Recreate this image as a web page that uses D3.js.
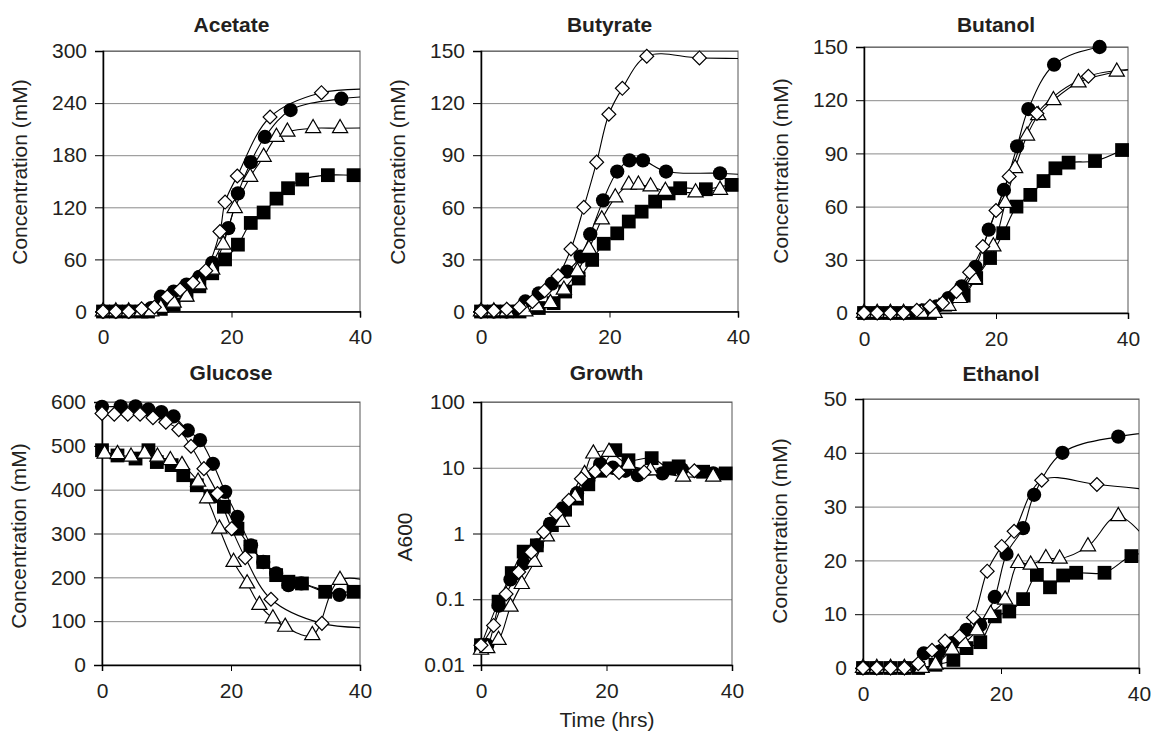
<!DOCTYPE html>
<meta charset='utf-8'>
<style>
    body {
        margin: 0;
        background: #fff;
    }
    text {
        font-family: Arial, 'Liberation Sans', Helvetica, sans-serif;
        fill: #231f20;
    }
    .title {
        font-size: 21px;
        font-weight: bold;
    }
    .tick text {
        font-size: 21px;
    }
    .label {
        font-size: 21px;
    }
</style>
<body>
<div id='container'></div>
<script src='https://d3js.org/d3.v7.min.js'></script>
<script>
    // ---- data: [time (hrs), value] ----
    // points past 40 h only carry the smoothed lines to the plot edge
    const acetateCircle = [[0,0],[2,0],[4,0],[6,1],[7.5,4],[9,17],[11,23],[13,31],[15,40],[17,56],[19.5,96],[21,136],[23,172],[25.2,201],[29.2,232],[37.1,245],[44,248]];
    const acetateDiamond = [[0,0],[2,0],[4,0],[6,3],[8,5],[10,17],[12,25],[14,33],[16,47],[18.2,92],[19,126],[20.9,156],[26,224],[34,252],[44,256]];
    const acetateTriangle = [[0,0],[2,0],[4,0],[6,0],[7.5,0],[9,4],[11,10],[13,17],[15,31],[17,48],[18.7,77],[20.5,119],[22.9,155],[25,178],[27,201],[28.7,207],[32.7,211],[36.9,211],[44,212]];
    const acetateSquare = [[0,0],[2,0],[4,0],[6,0],[7,0],[9,3],[11,8],[13,19],[15,29],[17,44],[19,60],[21,77],[23,102],[25,114],[27,130],[28.8,142],[31,152],[35,157],[39,157],[44,158]];

    const butyrateCircle = [[0,0],[2,0],[4,0],[6.9,5.8],[9,10.5],[11,16],[13.4,23],[15.5,31.6],[17,44.5],[19,64],[21.2,80.6],[23.1,87],[25.2,87],[28.8,80.6],[37.2,79.6],[44,78]];
    const butyrateDiamond = [[0,0],[2,0.5],[4,1.3],[6,2.5],[8,5.8],[9.9,12],[12,20.5],[14,36],[16,60],[18,86],[19.9,113.6],[22,128.5],[25.8,147],[34,146],[44,145.5]];
    const butyrateTriangle = [[0,0],[2,0],[4,0],[6.9,0],[8.7,2.9],[10.8,4.8],[12.9,12.5],[15,23],[16.8,36],[18.8,53],[20.9,65.6],[23,73],[24.5,73],[26.4,72],[28.7,69.4],[33.4,68.5],[37.2,70],[44,70]];
    const butyrateSquare = [[0,0],[2,0],[4,0],[6,0],[9,2],[11.3,4.8],[13.1,11.5],[15.2,19],[17.3,29.7],[19.1,39],[21.2,45],[23,51.8],[25,57.5],[27.1,63.3],[29.2,68],[31,71],[35,70.4],[39,72.9],[44,74]];

    const butanolCircle = [[0,0],[2,0],[4,0],[6,0],[8.9,1.5],[11,3.8],[12.8,8.4],[14.8,15],[16.9,26],[18.9,47],[21.2,69.4],[23.2,94],[24.9,115],[28.8,140],[35.7,150],[44,151]];
    const butanolDiamond = [[0,0],[2,0],[4,0],[6,0],[8,1.5],[10,3.8],[11.9,5.6],[14,12.2],[16,23],[18,37.5],[20,57.8],[22,77],[26.2,112.5],[34,133.5],[44,138]];
    const butanolTriangle = [[0,0],[2,0],[4,0],[6,0],[8.7,0],[10.7,0],[12.8,4],[14.5,8.4],[16.8,19],[19.6,37.5],[21.4,62],[22.9,81.6],[24.7,100],[26.4,111.5],[28.7,120],[32.5,130],[38.3,136],[44,138.5]];
    const butanolSquare = [[0,0],[2,0],[4,0],[6,0],[8,0],[10,0],[12.3,4.7],[15.1,9.8],[17,19.7],[19.1,31],[21.1,45],[23.1,60],[25.2,66.6],[27.2,74.4],[29,81.6],[31,84.8],[35,85.7],[39.1,91.9]];

    const glucoseCircle = [[0,589],[2.9,590],[5.2,590],[7.2,583],[9.2,577],[11.1,567],[13.3,535],[15.2,513],[17.2,459],[19.1,395],[21,338],[23.1,273],[25,235],[27,209],[28.9,182],[30.9,186],[36.8,160],[44,170]];
    const glucoseDiamond = [[0,574],[1.9,572],[4,572],[5.9,572],[7.9,564],[9.9,554],[11.9,537],[13.8,499],[15.8,448],[17.9,391],[20.1,311],[22.2,245],[26.2,150],[34.1,95],[44,84]];
    const glucoseTriangle = [[0.4,482],[2.4,481],[4.5,475],[6.6,482],[8.6,475],[10.6,467],[12.4,456],[14.9,418],[16.3,380],[18.2,311],[20.4,235],[22.5,186],[24.4,137],[26.5,106],[28.4,87],[32.6,68],[36.9,194],[44,180]];
    const glucoseSquare = [[0,490],[2.4,478],[5.2,471],[7.2,490],[8.5,463],[10.8,456],[12.6,433],[14.7,410],[16.8,385],[18.9,361],[21,311],[23,270],[25,235],[27,205],[28.9,190],[31,186],[34.6,167],[39,167],[44,167]];

    const growthCircle = [[0,0.02],[1,0.02],[2.8,0.08],[4.7,0.2],[6.8,0.35],[8.9,0.66],[11,1.4],[13,2.4],[15.3,4.1],[17.1,6.4],[19,11.5],[21,10],[23,9],[25,7.7],[28.9,8.2],[32,9.5],[37,8.2],[44,8]];
    const growthDiamond = [[0,0.02],[2,0.04],[4,0.12],[6,0.26],[8,0.52],[10,1.05],[12,2.0],[14,3.2],[16,6.8],[18.2,8.8],[20,9.3],[22,8.5],[26,8.6],[34,9.0],[44,8.5]];
    const growthTriangle = [[0,0.017],[1,0.018],[2.8,0.024],[4.7,0.077],[6.5,0.17],[8.5,0.37],[10.5,0.9],[12.9,1.5],[15,3.6],[16.5,8],[17.9,16.4],[20.4,17.4],[23.5,11],[27,9.1],[32.2,7.3],[37,7.3],[44,7.8]];
    const growthSquare = [[0,0.02],[2.8,0.092],[4.9,0.25],[6.8,0.53],[8.9,0.66],[11.3,1.34],[13.4,2.3],[15.3,3.4],[17.1,5.6],[19,9],[21.4,18.5],[23.5,13],[27.2,14],[30,9.8],[31.5,10.5],[35.4,8.7],[39,8.2],[44,8]];

    const ethanolCircle = [[0,0],[2,0],[4,0],[6,0],[8.8,2.7],[11,3],[12.9,4.6],[15,7.1],[17,8],[19.1,13.2],[20.8,21.2],[23.2,26],[24.8,32.2],[28.9,40],[37,43],[44,44]];
    const ethanolDiamond = [[0,0],[2,0],[4,0],[6,0],[8,0.8],[10,3.3],[11.9,5],[14,5.9],[16,9.4],[18,18],[20.1,22.6],[21.9,25.4],[25.9,34.9],[33.9,34.1],[44,32.8]];
    const ethanolTriangle = [[0,0],[2,0],[4,0],[6,0],[8.5,0],[10.5,0.6],[12.9,3.4],[14.7,4.6],[16.5,7],[18.5,10],[20.6,12.7],[22.5,19.5],[24.3,19.2],[26.5,20.4],[28.5,20.3],[32.6,22.6],[37,28.2],[44,19]];
    const ethanolSquare = [[0,0],[2,0],[4,0],[6,0],[8,0],[10.5,0.6],[13.1,1.5],[15,3.7],[17,4.8],[19.1,9.6],[21.2,10.5],[23.2,12.8],[25.2,17.3],[27.1,15],[29,17.2],[30.9,17.7],[35,17.7],[38.9,20.8],[44,22]];

    // ---- axis ticks ----
    const timeTicks = [0, 20, 40];
    const acetateTicks = [0, 60, 120, 180, 240, 300];
    const butyrateTicks = [0, 30, 60, 90, 120, 150];
    const butanolTicks = [0, 30, 60, 90, 120, 150];
    const glucoseTicks = [0, 100, 200, 300, 400, 500, 600];
    const growthTicks = [0.01, 0.1, 1, 10, 100];
    const ethanolTicks = [0, 10, 20, 30, 40, 50];

    const titles = ['Acetate', 'Butyrate', 'Butanol', 'Glucose', 'Growth', 'Ethanol'];
    const yLabels = ['Concentration (mM)', 'Concentration (mM)', 'Concentration (mM)', 'Concentration (mM)', 'A600', 'Concentration (mM)'];

    const panels = [
        { circle: acetateCircle, diamond: acetateDiamond, triangle: acetateTriangle, square: acetateSquare, ticks: acetateTicks },
        { circle: butyrateCircle, diamond: butyrateDiamond, triangle: butyrateTriangle, square: butyrateSquare, ticks: butyrateTicks },
        { circle: butanolCircle, diamond: butanolDiamond, triangle: butanolTriangle, square: butanolSquare, ticks: butanolTicks },
        { circle: glucoseCircle, diamond: glucoseDiamond, triangle: glucoseTriangle, square: glucoseSquare, ticks: glucoseTicks },
        { circle: growthCircle, diamond: growthDiamond, triangle: growthTriangle, square: growthSquare, ticks: growthTicks, log: true },
        { circle: ethanolCircle, diamond: ethanolDiamond, triangle: ethanolTriangle, square: ethanolSquare, ticks: ethanolTicks },
    ];

    // plot-area boxes in page pixels
    const boxes = [
        { left: 103, right: 360, top: 51, bottom: 311.5, titleY: 32, labelY: 172, labelOff: 76 },
        { left: 481, right: 738, top: 51, bottom: 311.5, titleY: 32, labelY: 172, labelOff: 76 },
        { left: 864, right: 1128, top: 47, bottom: 313, titleY: 32, labelY: 171, labelOff: 76 },
        { left: 102, right: 360, top: 402, bottom: 665, titleY: 380, labelY: 536, labelOff: 76 },
        { left: 481, right: 732, top: 402, bottom: 665, titleY: 380, labelY: 537, labelOff: 69 },
        { left: 863, right: 1139, top: 399, bottom: 668, titleY: 381, labelY: 531, labelOff: 76 },
    ];

    const W = 1151, H = 736;

    let svg = d3.select( '#container' )
        .append( 'svg' )
        .attr( 'width', W )
        .attr( 'height', H );

    // series drawing order, bottom to top
    const series = [
        { key: 'square', symbol: d3.symbolSquare, size: 190, fill: '#000', stroke: 'none', rotate: 0 },
        { key: 'circle', symbol: d3.symbolCircle, size: 160, fill: '#000', stroke: 'none', rotate: 0 },
        { key: 'triangle', symbol: d3.symbolTriangle, size: 100, fill: '#fff', stroke: '#000', rotate: 0 },
        { key: 'diamond', symbol: d3.symbolSquare, size: 96, fill: '#fff', stroke: '#000', rotate: 45 },
    ];

    panels.forEach( ( p, i ) => {
        const b = boxes[i];
        const w = b.right - b.left, h = b.bottom - b.top;

        let x = d3.scaleLinear().domain( [0, 40] ).range( [0, w] );
        let y = p.log
            ? d3.scaleLog().domain( [0.01, 100] ).range( [h, 0] )
            : d3.scaleLinear().domain( d3.extent( p.ticks ) ).range( [h, 0] );

        let g = svg.append( 'g' )
            .attr( 'transform', `translate( ${b.left}, ${b.top} )` );

        g.append( 'clipPath' )
            .attr( 'id', 'clip' + i )
            .append( 'rect' )
            .attr( 'width', w )
            .attr( 'height', h );

        // gridlines
        g.append( 'g' )
            .call( d3.axisLeft( y ).tickValues( p.ticks ).tickSize( -w ).tickFormat( '' ) )
            .call( a => a.select( '.domain' ).remove() )
            .selectAll( 'line' )
                .attr( 'stroke', '#8a8a8a' );

        // frame
        g.append( 'rect' )
            .attr( 'width', w )
            .attr( 'height', h )
            .attr( 'fill', 'none' )
            .attr( 'stroke', '#555' );

        // y axis
        let yAxis = d3.axisLeft( y )
            .tickValues( p.ticks )
            .tickSize( 8 )
            .tickPadding( 8 )
            .tickFormat( d3.format( '~g' ) );
        g.append( 'g' )
            .call( yAxis )
            .call( a => a.select( '.domain' ).attr( 'stroke', '#000' ).attr( 'stroke-width', 1.5 ) )
            .call( a => a.selectAll( 'line' ).attr( 'stroke', '#000' ) );

        // x axis
        g.append( 'g' )
            .attr( 'transform', `translate( 0, ${h} )` )
            .call( d3.axisBottom( x ).tickValues( timeTicks ).tickSize( 6 ).tickPadding( 12 ) )
            .call( a => a.select( '.domain' ).attr( 'stroke', '#000' ).attr( 'stroke-width', 1.5 ) )
            .call( a => a.selectAll( 'line' ).attr( 'stroke', '#000' ) );

        g.selectAll( '.tick text' ).attr( 'fill', '#231f20' ).attr( 'font-family', null ).attr( 'font-size', null );

        // smoothed lines
        let line = d3.line()
            .x( d => x( d[0] ) )
            .y( d => y( d[1] ) )
            .curve( d3.curveCatmullRom.alpha( 0.5 ) );

        let lines = g.append( 'g' ).attr( 'clip-path', `url(#clip${i})` );
        series.forEach( s => {
            lines.append( 'path' )
                .datum( p[s.key] )
                .attr( 'fill', 'none' )
                .attr( 'stroke', '#000' )
                .attr( 'stroke-width', 1.1 )
                .attr( 'd', line );
        } );

        // markers
        series.forEach( s => {
            g.append( 'g' )
                .selectAll( 'path' )
                .data( p[s.key].filter( d => d[0] <= 40 ) )
                .enter().append( 'path' )
                    .attr( 'transform', d => `translate( ${x( d[0] )}, ${y( d[1] )} ) rotate( ${s.rotate} )` )
                    .attr( 'd', d3.symbol().type( s.symbol ).size( s.size ) )
                    .attr( 'fill', s.fill )
                    .attr( 'stroke', s.stroke )
                    .attr( 'stroke-width', 1.2 );
        } );

        // title
        svg.append( 'text' )
            .attr( 'class', 'title' )
            .attr( 'x', ( b.left + b.right ) / 2 )
            .attr( 'y', b.titleY )
            .attr( 'text-anchor', 'middle' )
            .text( titles[i] );

        // y label
        svg.append( 'text' )
            .attr( 'class', 'label' )
            .attr( 'text-anchor', 'middle' )
            .attr( 'transform', `translate( ${b.left - b.labelOff}, ${b.labelY} ) rotate( -90 )` )
            .text( yLabels[i] );
    } );

    svg.append( 'text' )
        .attr( 'class', 'label' )
        .attr( 'x', 607 )
        .attr( 'y', 727 )
        .attr( 'text-anchor', 'middle' )
        .text( 'Time (hrs)' );
</script>
</body>
